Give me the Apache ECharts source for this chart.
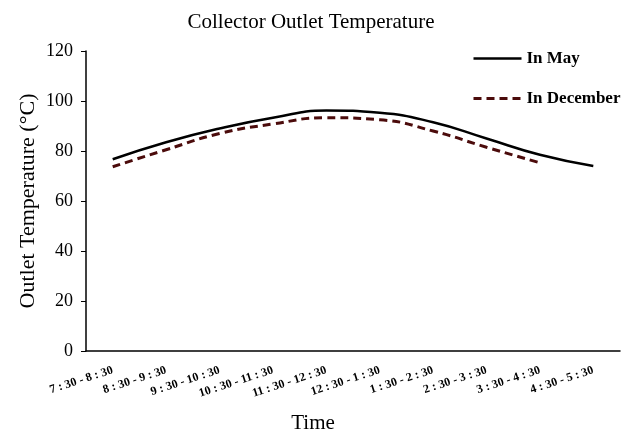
<!DOCTYPE html>
<html>
<head>
<meta charset="utf-8">
<title>Collector Outlet Temperature</title>
<script src="https://cdn.jsdelivr.net/npm/echarts@6/dist/echarts.min.js"></script>
<style>
  html, body { margin: 0; padding: 0; background: #fff; }
  #chart { width: 638px; height: 434px; }
</style>
</head>
<body>
<div id="chart"></div>
<script>
const timeSlots = [
  '7 : 30 - 8 : 30', '8 : 30 - 9 : 30', '9 : 30 - 10 : 30', '10 : 30 - 11 : 30',
  '11 : 30 - 12 : 30', '12 : 30 - 1 : 30', '1 : 30 - 2 : 30', '2 : 30 - 3 : 30',
  '3 : 30 - 4 : 30', '4 : 30 - 5 : 30'
]
const mayTemp = [76.7, 83.5, 89, 93.3, 96.2, 95.3, 91.5, 85, 78.5, 74]
const decemberTemp = [73.7, 80.5, 87, 90.8, 93.3, 92.5, 88, 81.5, 75.3]

const serif = 'Liberation Serif'
const chart = echarts.init(document.getElementById('chart'))

chart.setOption({
  animation: false,
  textStyle: { fontFamily: serif, color: '#000' },
  title: {
    text: 'Collector Outlet Temperature',
    left: 306,
    textAlign: 'center',
    top: 7,
    textStyle: { fontFamily: serif, fontSize: 21, fontWeight: 'normal', color: '#000' },
  },
  legend: {
    orient: 'vertical',
    left: 467,
    top: 45,
    itemWidth: 48,
    itemHeight: 12,
    itemGap: 23,
    itemStyle: { opacity: 0 },
    textStyle: { fontFamily: serif, fontSize: 17, fontWeight: 'bold', color: '#000' },
    data: [
      { name: 'In May', lineStyle: { width: 2.5 } },
      { name: 'In December', lineStyle: { width: 3 } },
    ],
  },
  grid: {
    left: 86,
    right: 18,
    top: 51,
    bottom: 83,
    outerBoundsMode: 'none',
  },
  xAxis: {
    type: 'category',
    data: timeSlots,
    boundaryGap: true,
    name: 'Time',
    nameLocation: 'middle',
    nameGap: 62,
    nameMoveOverlap: false,
    nameTextStyle: { fontFamily: serif, fontSize: 21, color: '#000', padding: [0, 80, 0, 0] },
    axisLine: { lineStyle: { color: '#000', width: 1.5 } },
    axisTick: { alignWithLabel: true, length: 4, lineStyle: { color: '#000' } },
    axisLabel: {
      rotate: 18,
      interval: 0,
      margin: 19,
      fontFamily: serif,
      fontSize: 12,
      fontWeight: 'bold',
      color: '#000',
    },
  },
  yAxis: {
    type: 'value',
    min: 0,
    max: 120,
    interval: 20,
    name: 'Outlet Temperature (°C)',
    nameLocation: 'middle',
    nameGap: 47,
    nameMoveOverlap: false,
    nameTextStyle: { fontFamily: serif, fontSize: 22, color: '#000' },
    axisLine: { show: true, lineStyle: { color: '#000', width: 1.5 } },
    axisTick: { show: true, length: 5, lineStyle: { color: '#000' } },
    axisLabel: { fontFamily: serif, fontSize: 18, color: '#000', margin: 13 },
    splitLine: { show: false },
  },
  series: [
    {
      name: 'In May',
      type: 'line',
      data: mayTemp,
      smooth: true,
      symbol: 'none',
      color: '#000',
      lineStyle: { color: '#000', width: 2.5 },
    },
    {
      name: 'In December',
      type: 'line',
      data: decemberTemp,
      smooth: true,
      symbol: 'none',
      color: '#4b0b0b',
      lineStyle: { color: '#4b0b0b', width: 3, type: [8, 5] },
    },
  ],
})
</script>
</body>
</html>
